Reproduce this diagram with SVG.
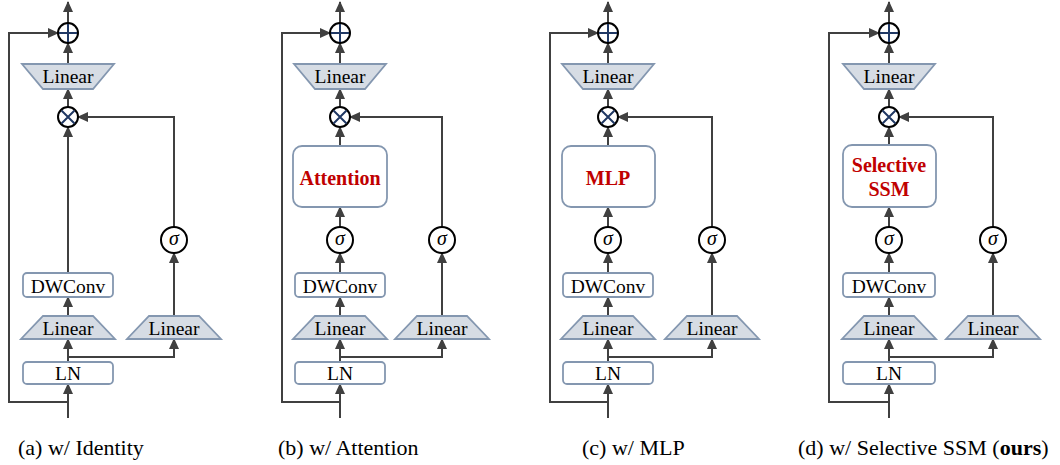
<svg xmlns="http://www.w3.org/2000/svg" width="1060" height="465" viewBox="0 0 1060 465" font-family="Liberation Serif, Times New Roman, Tinos, DejaVu Serif, serif">
<defs>
<marker id="ah" markerUnits="userSpaceOnUse" markerWidth="11" markerHeight="10" refX="10" refY="5" orient="auto">
<path d="M0,0 L11,5 L0,10 z" fill="#404040"/>
</marker>
<style>
.ln{fill:none;stroke:#404040;stroke-width:2;marker-end:url(#ah)}
.trap{fill:#D6DCE4;stroke:#8497B0;stroke-width:1.8}
.box{fill:#fff;stroke:#8497B0;stroke-width:1.8}
.op{fill:#fff;stroke:#000;stroke-width:2}
.cr{stroke:#203864;stroke-width:2}
.t{font-size:19.5px;fill:#000;text-anchor:middle}
.s{font-size:20px;font-style:italic;fill:#000;text-anchor:middle}
.r{font-size:20px;font-weight:bold;fill:#C00000;text-anchor:middle}
.cap{font-size:22px;fill:#000}
</style>
</defs>
<rect width="1060" height="465" fill="#fff"/>

<!-- Panel (a) -->
<g id="panel-a" transform="translate(68,0)">
<g id="a-connectors">
<path class="ln" d="M0,23 V2"/>
<path class="ln" d="M0,64 V43"/>
<path class="ln" d="M0,107 V89"/>
<path class="ln" d="M0,273 V127"/>
<path class="ln" d="M0,316 V297"/>
<path class="ln" d="M0,362 V339"/>
<path class="ln" d="M0,357 H106 V339"/>
<path class="ln" d="M106,316 V253"/>
<path class="ln" d="M106,227 V117 H10"/>
<path class="ln" d="M0,418 V384"/>
<path class="ln" d="M0,402 H-59 V33 H-10"/>
</g>
<g id="a-add"><circle class="op" cx="0" cy="33" r="10"/><path class="cr" d="M0,24 V42 M-9,33 H9"/></g>
<g id="a-linear-out"><polygon class="trap" points="-46,64 46,64 25,89 -25,89"/><text class="t" x="0" y="83">Linear</text></g>
<g id="a-mul"><circle class="op" cx="0" cy="117" r="10"/><path class="cr" d="M-6.5,110.5 L6.5,123.5 M6.5,110.5 L-6.5,123.5"/></g>
<g id="a-sigma-r"><circle class="op" cx="106" cy="240" r="13"/><text class="s" x="106" y="245">σ</text></g>
<g id="a-dwconv"><rect class="box" x="-45" y="273" width="90" height="24" rx="4"/><text class="t" x="0" y="293">DWConv</text></g>
<g id="a-linear-l"><polygon class="trap" points="-25,316 25,316 47,339 -47,339"/><text class="t" x="0" y="335">Linear</text></g>
<g id="a-linear-r"><polygon class="trap" points="81,316 131,316 153,339 59,339"/><text class="t" x="106" y="335">Linear</text></g>
<g id="a-ln"><rect class="box" x="-45" y="362" width="90" height="22" rx="4"/><text class="t" x="0" y="380">LN</text></g>
</g>

<!-- Panel (b) -->
<g id="panel-b" transform="translate(340,0)">
<g id="b-connectors">
<path class="ln" d="M0,23 V2"/>
<path class="ln" d="M0,64 V43"/>
<path class="ln" d="M0,107 V89"/>
<path class="ln" d="M0,146 V127"/>
<path class="ln" d="M0,227 V207"/>
<path class="ln" d="M0,273 V253"/>
<path class="ln" d="M0,316 V297"/>
<path class="ln" d="M0,362 V339"/>
<path class="ln" d="M0,357 H102 V339"/>
<path class="ln" d="M102,316 V253"/>
<path class="ln" d="M102,227 V117 H10"/>
<path class="ln" d="M0,418 V384"/>
<path class="ln" d="M0,402 H-58 V33 H-10"/>
</g>
<g id="b-add"><circle class="op" cx="0" cy="33" r="10"/><path class="cr" d="M0,24 V42 M-9,33 H9"/></g>
<g id="b-linear-out"><polygon class="trap" points="-46,64 46,64 25,89 -25,89"/><text class="t" x="0" y="83">Linear</text></g>
<g id="b-mul"><circle class="op" cx="0" cy="117" r="10"/><path class="cr" d="M-6.5,110.5 L6.5,123.5 M6.5,110.5 L-6.5,123.5"/></g>
<g id="b-attn"><rect class="box" x="-47" y="146" width="94" height="61" rx="9"/><text class="r" x="0" y="185">Attention</text></g>
<g id="b-sigma-l"><circle class="op" cx="0" cy="240" r="13"/><text class="s" x="0" y="245">σ</text></g>
<g id="b-sigma-r"><circle class="op" cx="102" cy="240" r="13"/><text class="s" x="102" y="245">σ</text></g>
<g id="b-dwconv"><rect class="box" x="-45" y="273" width="90" height="24" rx="4"/><text class="t" x="0" y="293">DWConv</text></g>
<g id="b-linear-l"><polygon class="trap" points="-25,316 25,316 47,339 -47,339"/><text class="t" x="0" y="335">Linear</text></g>
<g id="b-linear-r"><polygon class="trap" points="77,316 127,316 149,339 55,339"/><text class="t" x="102" y="335">Linear</text></g>
<g id="b-ln"><rect class="box" x="-45" y="362" width="90" height="22" rx="4"/><text class="t" x="0" y="380">LN</text></g>
</g>

<!-- Panel (c) -->
<g id="panel-c" transform="translate(608,0)">
<g id="c-connectors">
<path class="ln" d="M0,23 V2"/>
<path class="ln" d="M0,64 V43"/>
<path class="ln" d="M0,107 V89"/>
<path class="ln" d="M0,146 V127"/>
<path class="ln" d="M0,227 V207"/>
<path class="ln" d="M0,273 V253"/>
<path class="ln" d="M0,316 V297"/>
<path class="ln" d="M0,362 V339"/>
<path class="ln" d="M0,357 H104 V339"/>
<path class="ln" d="M104,316 V253"/>
<path class="ln" d="M104,227 V117 H10"/>
<path class="ln" d="M0,418 V384"/>
<path class="ln" d="M0,402 H-58 V33 H-10"/>
</g>
<g id="c-add"><circle class="op" cx="0" cy="33" r="10"/><path class="cr" d="M0,24 V42 M-9,33 H9"/></g>
<g id="c-linear-out"><polygon class="trap" points="-46,64 46,64 25,89 -25,89"/><text class="t" x="0" y="83">Linear</text></g>
<g id="c-mul"><circle class="op" cx="0" cy="117" r="10"/><path class="cr" d="M-6.5,110.5 L6.5,123.5 M6.5,110.5 L-6.5,123.5"/></g>
<g id="c-mlp"><rect class="box" x="-46" y="146" width="93" height="61" rx="9"/><text class="r" x="0" y="184.5">MLP</text></g>
<g id="c-sigma-l"><circle class="op" cx="0" cy="240" r="13"/><text class="s" x="0" y="245">σ</text></g>
<g id="c-sigma-r"><circle class="op" cx="104" cy="240" r="13"/><text class="s" x="104" y="245">σ</text></g>
<g id="c-dwconv"><rect class="box" x="-45" y="273" width="90" height="24" rx="4"/><text class="t" x="0" y="293">DWConv</text></g>
<g id="c-linear-l"><polygon class="trap" points="-25,316 25,316 47,339 -47,339"/><text class="t" x="0" y="335">Linear</text></g>
<g id="c-linear-r"><polygon class="trap" points="79,316 129,316 151,339 57,339"/><text class="t" x="104" y="335">Linear</text></g>
<g id="c-ln"><rect class="box" x="-45" y="362" width="90" height="22" rx="4"/><text class="t" x="0" y="380">LN</text></g>
</g>

<!-- Panel (d) -->
<g id="panel-d" transform="translate(889,0)">
<g id="d-connectors">
<path class="ln" d="M0,23 V2"/>
<path class="ln" d="M0,64 V43"/>
<path class="ln" d="M0,107 V89"/>
<path class="ln" d="M0,145 V127"/>
<path class="ln" d="M0,227 V207"/>
<path class="ln" d="M0,273 V253"/>
<path class="ln" d="M0,316 V297"/>
<path class="ln" d="M0,362 V339"/>
<path class="ln" d="M0,357 H104 V339"/>
<path class="ln" d="M104,316 V253"/>
<path class="ln" d="M104,227 V117 H10"/>
<path class="ln" d="M0,418 V384"/>
<path class="ln" d="M0,402 H-60 V33 H-10"/>
</g>
<g id="d-add"><circle class="op" cx="0" cy="33" r="10"/><path class="cr" d="M0,24 V42 M-9,33 H9"/></g>
<g id="d-linear-out"><polygon class="trap" points="-46,64 46,64 25,89 -25,89"/><text class="t" x="0" y="83">Linear</text></g>
<g id="d-mul"><circle class="op" cx="0" cy="117" r="10"/><path class="cr" d="M-6.5,110.5 L6.5,123.5 M6.5,110.5 L-6.5,123.5"/></g>
<g id="d-ssm"><rect class="box" x="-46" y="145" width="93" height="62" rx="9"/><text class="r" x="0" y="172">Selective</text><text class="r" x="0" y="196">SSM</text></g>
<g id="d-sigma-l"><circle class="op" cx="0" cy="240" r="13"/><text class="s" x="0" y="245">σ</text></g>
<g id="d-sigma-r"><circle class="op" cx="104" cy="240" r="13"/><text class="s" x="104" y="245">σ</text></g>
<g id="d-dwconv"><rect class="box" x="-46" y="273" width="92" height="24" rx="4"/><text class="t" x="0" y="293">DWConv</text></g>
<g id="d-linear-l"><polygon class="trap" points="-25,316 25,316 47,339 -47,339"/><text class="t" x="0" y="335">Linear</text></g>
<g id="d-linear-r"><polygon class="trap" points="79,316 129,316 151,339 57,339"/><text class="t" x="104" y="335">Linear</text></g>
<g id="d-ln"><rect class="box" x="-46" y="362" width="92" height="22" rx="4"/><text class="t" x="0" y="380">LN</text></g>
</g>

<!-- Captions -->
<g id="captions">
<text class="cap" x="18" y="455">(a) w/ Identity</text>
<text class="cap" x="278" y="455">(b) w/ Attention</text>
<text class="cap" x="582" y="455">(c) w/ MLP</text>
<text class="cap" x="798" y="455">(d) w/ Selective SSM (<tspan font-weight="bold">ours</tspan>)</text>
</g>
</svg>
